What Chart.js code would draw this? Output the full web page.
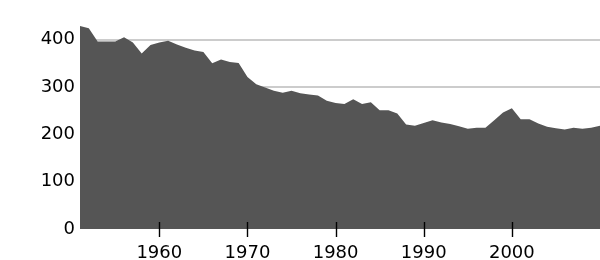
<!DOCTYPE html>
<html>
<head>
<meta charset="utf-8">
<script src="https://cdn.jsdelivr.net/npm/chart.js@4"></script>
<style>
  html, body { margin: 0; padding: 0; background: #fff; }
  #wrap { width: 600px; height: 260px; position: relative; }
</style>
</head>
<body>
<div id="wrap"><canvas id="chart"></canvas></div>
<script>
// valores, ano a ano
const years = [];
for (let y = 1951; y <= 2010; y++) years.push(y);

const values = [
    429, 424, 396, 396, 396, 405, 394, 371, 389, 394,
    398, 390, 383, 377, 374, 350, 358, 353, 351, 321,
    306, 299, 292, 288, 292, 287, 284, 282, 271, 266,
    264, 274, 264, 268, 251, 251, 244, 221, 218, 224,
    230, 225, 222, 217, 212, 214, 214, 230, 246, 255,
    232, 232, 223, 216, 213, 210, 214, 212, 214, 218
];

const xTicks = [1960, 1970, 1980, 1990, 2000];
const yTicks = [0, 100, 200, 300, 400];

const FONT = { family: '"DejaVu Sans", sans-serif', size: 18 };

// marcas do eixo x cruzando a base da área
const tickMarks = {
    id: 'tickMarks',
    afterDatasetsDraw(chart) {
        const { ctx, chartArea, scales: { x } } = chart;
        ctx.save();
        ctx.strokeStyle = '#000';
        ctx.lineWidth = 1.4;
        xTicks.forEach(t => {
            const px = Math.round(x.getPixelForValue(t)) + 0.5;
            ctx.beginPath();
            ctx.moveTo(px, chartArea.bottom - 7);
            ctx.lineTo(px, chartArea.bottom + 8);
            ctx.stroke();
        });
        ctx.restore();
    }
};

new Chart(document.getElementById('chart'), {
    type: 'line',
    data: {
        datasets: [{
            data: years.map((y, i) => ({ x: y, y: values[i] })),
            backgroundColor: '#555555',
            borderWidth: 0,
            pointRadius: 0,
            fill: 'origin',
            tension: 0
        }]
    },
    options: {
        responsive: true,
        maintainAspectRatio: false,
        animation: false,
        layout: { padding: { top: 25.5, left: 0, right: 0, bottom: 0 } },
        plugins: { legend: { display: false }, tooltip: { enabled: false } },
        scales: {
            x: {
                type: 'linear',
                min: 1951,
                max: 2010,
                afterBuildTicks: s => { s.ticks = xTicks.map(v => ({ value: v })); },
                afterFit: s => { s.height = 31; },
                grid: { display: false, drawTicks: false },
                border: { display: false },
                ticks: { color: '#000', font: FONT, padding: 14, maxRotation: 0, callback: v => String(v) }
            },
            y: {
                min: 0,
                max: 430,
                z: 1,
                afterBuildTicks: s => { s.ticks = yTicks.map(v => ({ value: v })); },
                afterFit: s => { s.width = 80; },
                grid: {
                    color: ctx => ctx.tick && ctx.tick.value === 0 ? 'rgba(0,0,0,0)' : '#cccccc',
                    lineWidth: 2,
                    drawTicks: false
                },
                border: { display: false },
                ticks: { color: '#000', font: FONT, padding: 5, callback: v => String(v) }
            }
        }
    },
    plugins: [tickMarks]
});
</script>
</body>
</html>
